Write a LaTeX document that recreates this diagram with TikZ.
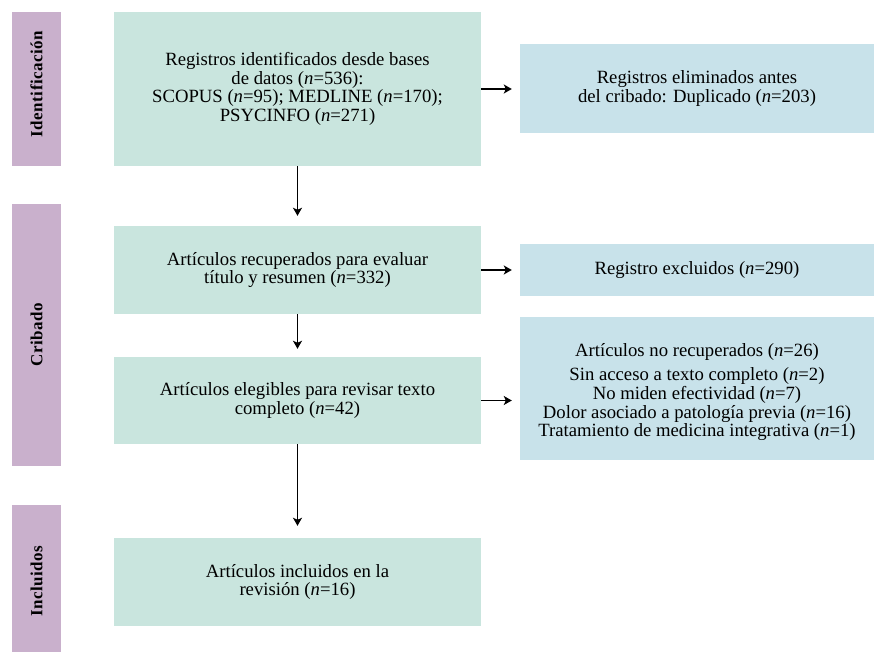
\documentclass[tikz,border=0pt]{standalone}
\usepackage{fontspec}
\setmainfont{Liberation Serif}
\newfontfamily\sidefont[LetterSpace=3]{Liberation Serif}
\usetikzlibrary{arrows.meta}
\definecolor{boxgreen}{RGB}{201,229,222}
\definecolor{boxblue}{RGB}{200,226,234}
\definecolor{barpurple}{RGB}{201,176,204}
\tikzset{
  boxtext/.style={align=center, inner sep=0pt, font=\fontsize{18.7}{18.6}\selectfont},
  mainbox/.style={boxtext, fill=boxgreen, draw=none, minimum width=367pt},
  sidebox/.style={boxtext, fill=boxblue, draw=none, minimum width=354pt},
  phasebar/.style={fill=barpurple, draw=none, minimum width=49pt, inner sep=0pt},
  phaselabel/.style={rotate=90, font=\sidefont\bfseries\fontsize{17}{18}\selectfont},
  flow/.style={draw=black, line width=1.5pt, -{Stealth[length=8pt,width=9pt,inset=2pt]}},
}
\begin{document}
\begin{tikzpicture}[x=1pt,y=-1pt]
\useasboundingbox (0,0) rectangle (875,653);
% phase bars
\node[phasebar, minimum height=154pt] (s1) at (36.5,89) {};
\node[phaselabel] (l1) at (36.5,84) {Identificación};
\node[phasebar, minimum height=262pt] (s2) at (36.5,335) {};
\node[phaselabel] (l2) at (s2.center) {Cribado};
\node[phasebar, minimum height=147pt] (s3) at (36.5,578.5) {};
\node[phaselabel] (l3) at (36.5,581) {Incluidos};
% main boxes
\node[mainbox, minimum height=154pt] (b1) at (297.5,89) {Registros identificados desde bases\\de datos (\textit{n}=536):\\SCOPUS (\textit{n}=95); MEDLINE (\textit{n}=170);\\PSYCINFO (\textit{n}=271)};
\node[mainbox, minimum height=88pt] (b2) at (297.5,270) {Artículos recuperados para evaluar\\título y resumen (\textit{n}=332)};
\node[mainbox, minimum height=87pt] (b3) at (297.5,400.5) {Artículos elegibles para revisar texto\\completo (\textit{n}=42)};
\node[mainbox, minimum height=88pt] (b4) at (297.5,582) {Artículos incluidos en la\\revisión (\textit{n}=16)};
% side boxes
\node[sidebox, minimum height=89pt] (r1) at (697,88.5) {Registros eliminados antes\\del cribado: Duplicado (\textit{n}=203)};
\node[sidebox, minimum height=52pt] (r2) at (697,270) {Registro excluidos (\textit{n}=290)};
\node[sidebox, minimum height=143pt] (r3) at (697,388.5) {};
\node[boxtext] (r3t) at (697,392) {Artículos no recuperados (\textit{n}=26)\\[6pt]Sin acceso a texto completo (\textit{n}=2)\\No miden efectividad (\textit{n}=7)\\Dolor asociado a patología previa (\textit{n}=16)\\Tratamiento de medicina integrativa (\textit{n}=1)};
% vertical arrows
\draw[flow, shorten >=10pt] (b1.south) -- (b2.north);
\draw[flow, shorten >=8pt] (b2.south) -- (b3.north);
\draw[flow, shorten >=12pt] (b3.south) -- (b4.north);
% horizontal arrows
\draw[flow, shorten >=8pt] (b1.east) -- (b1.east -| r1.west);
\draw[flow, shorten >=8pt] (b2.east) -- (b2.east -| r2.west);
\draw[flow, shorten >=8pt] (b3.east) -- (b3.east -| r3.west);
\end{tikzpicture}
\end{document}
